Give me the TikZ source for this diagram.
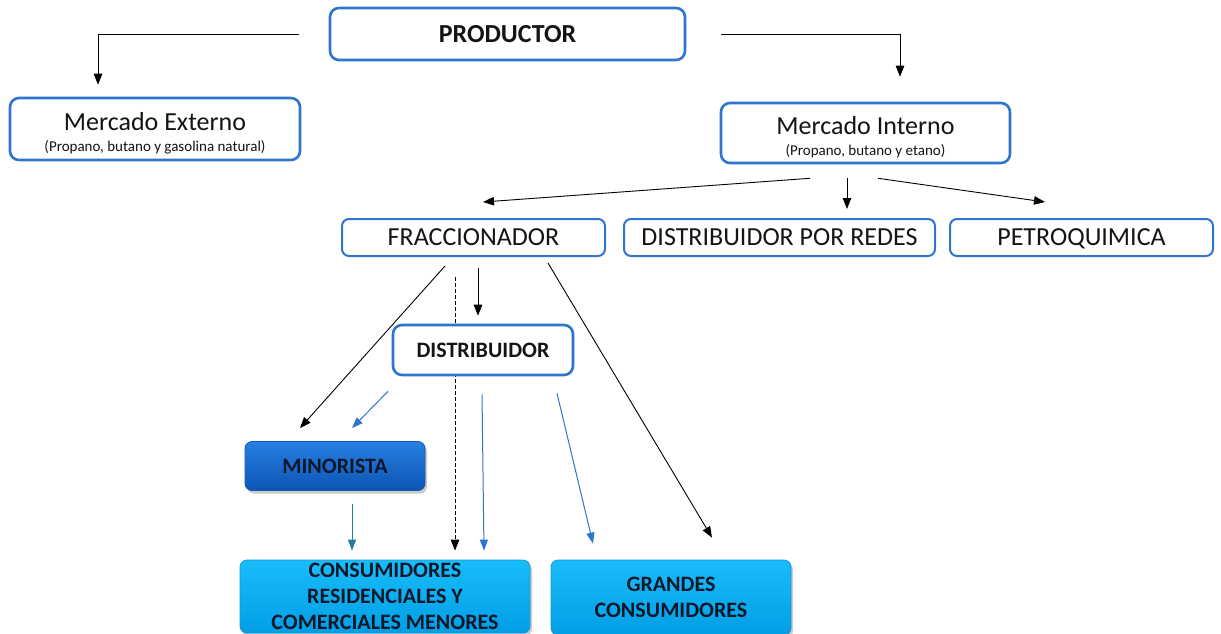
\documentclass[tikz,border=0pt]{standalone}
\usepackage{fontspec}
\setmainfont{Carlito}
\usetikzlibrary{arrows.meta,calc,shadows,backgrounds}
\definecolor{boxblue}{RGB}{47,117,205}
\definecolor{arrblue}{RGB}{46,117,207}
\definecolor{arrteal}{RGB}{30,125,165}
\definecolor{minotop}{RGB}{40,128,225}
\definecolor{minobot}{RGB}{12,84,180}
\definecolor{minoline}{RGB}{20,90,180}
\definecolor{constop}{RGB}{25,188,250}
\definecolor{consbot}{RGB}{2,158,228}
\definecolor{consline}{RGB}{20,150,215}
\definecolor{navytext}{RGB}{12,24,42}
\definecolor{labtext}{RGB}{20,20,20}
\begin{document}
\begin{tikzpicture}[x=1pt,y=-1pt,
  box/.style={draw=boxblue, line width=2.6pt, rounded corners=9pt, fill=white,
    inner sep=0pt, align=center, text=labtext},
  thinbox/.style={box, line width=2pt, rounded corners=7pt,
    font=\fontsize{26}{28}\selectfont, text height=18pt, text depth=3pt},
  twoline/.style={inner sep=0pt, align=center, text=labtext,
    font=\fontsize{26}{21}\selectfont},
  fillbox/.style={rounded corners=7pt, inner sep=0pt, align=center,
    font=\fontsize{22}{26}\selectfont\bfseries, text=navytext, line width=0.8pt,
    drop shadow={shadow xshift=2pt, shadow yshift=-3pt, opacity=0.35, fill=black!60}},
  blk/.style={draw=black, line width=0.9pt, -{Triangle[length=11pt,width=8.5pt]}},
  blu/.style={draw=arrblue, line width=1pt, -{Triangle[length=11pt,width=8pt]}},
  tea/.style={draw=arrteal, line width=1pt, -{Triangle[length=11pt,width=8pt]}}]
\useasboundingbox (0,0) rectangle (1221,634);
\clip (0,0) rectangle (1221,634);

% nodes
\node[box, minimum width=355pt, minimum height=52pt,
  font=\fontsize{26}{28}\selectfont\bfseries] (prod) at (507.5,34) {PRODUCTOR};
\node[box, minimum width=290pt, minimum height=62pt] (ext) at (155,129) {};
\node[twoline] (exttxt) at (155,133)
  {Mercado Externo\\{\fontsize{15}{21}\selectfont (Propano, butano y gasolina natural)}};
\node[box, minimum width=289pt, minimum height=60pt] (int) at (865.5,133) {};
\node[twoline] (inttxt) at (865.5,137.5)
  {Mercado Interno\\{\fontsize{15}{21}\selectfont (Propano, butano y etano)}};
\node[thinbox, minimum width=263pt, minimum height=37pt] (frac) at (473.5,237.5) {FRACCIONADOR};
\node[thinbox, minimum width=311pt, minimum height=37pt] (redes) at (779.5,237.5) {DISTRIBUIDOR POR REDES};
\node[thinbox, minimum width=263pt, minimum height=37pt] (petro) at (1081.5,237.5) {PETROQUIMICA};
\node[box, minimum width=180pt, minimum height=50pt,
  font=\fontsize{22}{26}\selectfont\bfseries] (dist) at (483,350) {DISTRIBUIDOR};
\node[fillbox, draw=minoline, top color=minotop, bottom color=minobot,
  minimum width=180pt, minimum height=49pt] (mino) at (335,466) {MINORISTA};
\node[fillbox, draw=consline, top color=constop, bottom color=consbot,
  minimum width=290pt, minimum height=73pt] (cons) at (385,596.5)
  {CONSUMIDORES\\RESIDENCIALES Y\\COMERCIALES MENORES};
\node[fillbox, draw=consline, top color=constop, bottom color=consbot,
  minimum width=240pt, minimum height=75pt] (gran) at (671,597.5)
  {GRANDES\\CONSUMIDORES};

% connectors
\draw[blk] ($(prod.west)+(-30,0)$) -| ($(ext.north)+(-57,-12)$);
\draw[blk] ($(prod.east)+(35,0)$) -| ($(int.north)+(34.5,-25)$);
\draw[blk] ($(int.south)+(-55.5,14)$) -- ($(frac.north)+(9.5,-16)$);
\draw[blk] ($(int.south)+(-18.5,14)$) -- ($(redes.north)+(67.5,-9)$);
\draw[blk] ($(int.south)+(12.5,14)$) -- ($(petro.north)+(-36.5,-16)$);
\draw[blk] ($(frac.south)+(4.5,11)$) -- ($(dist.north)+(-5,-8)$);
\draw[blk] ($(frac.south)+(-28.5,9)$) -- ($(mino.north)+(-35,-13)$);
\begin{scope}[on background layer]
\draw[blk, line width=0.8pt, dash pattern=on 4pt off 2pt] ($(frac.south)+(-18.5,20)$) -- ($(cons.north)+(70,-9)$);
\end{scope}
\draw[blk] ($(frac.south)+(74.5,6)$) -- ($(gran.north)+(41,-22)$);
\draw[blu] ($(dist.south)+(-95,15)$) -- ($(mino.north)+(17,-13)$);
\draw[blu] ($(dist.south)+(-1,18)$) -- ($(cons.north)+(99,-9)$);
\draw[blu] ($(dist.south)+(74,17)$) -- ($(gran.north)+(-78,-16)$);
\draw[tea] ($(mino.south)+(17,13)$) -- ($(cons.north)+(-33,-9)$);
\end{tikzpicture}
\end{document}
